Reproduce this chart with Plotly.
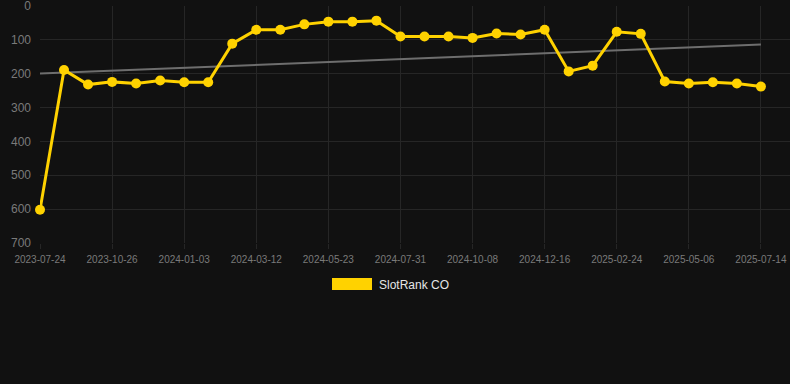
import numpy as np
import plotly.graph_objects as go

dates = ["2023-07-24", "2023-08-25", "2023-09-25", "2023-10-26", "2023-11-18", "2023-12-11",
         "2024-01-03", "2024-01-26", "2024-02-18", "2024-03-12", "2024-04-04", "2024-04-28",
         "2024-05-23", "2024-06-15", "2024-07-08", "2024-07-31", "2024-08-23", "2024-09-15",
         "2024-10-08", "2024-10-31", "2024-11-23", "2024-12-16", "2025-01-08", "2025-01-31",
         "2025-02-24", "2025-03-19", "2025-04-12", "2025-05-06", "2025-05-29", "2025-06-21",
         "2025-07-14"]
ranks = [602, 189, 232, 224, 229, 220, 225, 225, 111, 70, 70, 54, 46, 46, 43, 90,
         90, 90, 94, 81, 84, 70, 193, 176, 76, 82, 223, 229, 225, 229, 238]
tick_labels = dates[::3]
y_ticks = [0, 100, 200, 300, 400, 500, 600, 700]
series_name = "SlotRank CO"

# linear trend
idx = np.arange(len(ranks))
slope, intercept = np.polyfit(idx, ranks, 1)
trend = [intercept, intercept + slope * idx[-1]]

GOLD = "#FFD200"
BG = "#111111"
GRID = "#262626"
TICK = "#7a7a7a"

fig = go.Figure()
fig.add_trace(go.Scatter(
    x=[dates[0], dates[-1]], y=trend, mode="lines",
    line=dict(color="#6e6e6e", width=2), showlegend=False, hoverinfo="skip",
    cliponaxis=False))
fig.add_trace(go.Scatter(
    x=dates, y=ranks, mode="lines+markers", name=series_name,
    line=dict(color=GOLD, width=3), marker=dict(color=GOLD, size=10),
    showlegend=False, cliponaxis=False))

PW = 750.0
PH = 237.0
# legend swatch + text (paper coordinates)
fig.add_shape(type="rect", xref="paper", yref="paper",
              x0=(332 - 40) / PW, x1=(372 - 40) / PW,
              y0=(243 - 290) / PH, y1=(243 - 278) / PH,
              fillcolor=GOLD, line=dict(width=0))
fig.add_annotation(text=series_name, xref="paper", yref="paper",
                   x=(377 - 40) / PW, y=(243 - 284.5) / PH,
                   xanchor="left", yanchor="middle", showarrow=False,
                   font=dict(color="#e6e6e6", size=12))

fig.update_layout(
    width=790, height=384,
    paper_bgcolor=BG, plot_bgcolor=BG,
    margin=dict(l=40, r=0, t=6, b=141, autoexpand=False),
    font=dict(family="Liberation Sans, Arial, sans-serif", color=TICK),
    showlegend=False,
    xaxis=dict(type="category", categoryorder="array", categoryarray=dates,
               range=[0, PW / 24.03], tickvals=tick_labels, ticktext=tick_labels,
               showgrid=True, gridcolor=GRID, gridwidth=1,
               ticks="outside", ticklen=5, tickcolor=GRID,
               ticklabelstandoff=2,
               tickfont=dict(size=10, color=TICK), zeroline=False,
               showline=False),
    yaxis=dict(range=[700.3, -0.3], tickvals=y_ticks,
               showgrid=True, gridcolor=GRID, gridwidth=1,
               tickfont=dict(size=12, color=TICK), zeroline=False,
               ticklabelstandoff=8, ticklabeloverflow="allow", showline=False),
)

fig.write_html("out.html", config={"displayModeBar": False},
               post_script="document.body.style.margin='0';document.body.style.padding='0';")
